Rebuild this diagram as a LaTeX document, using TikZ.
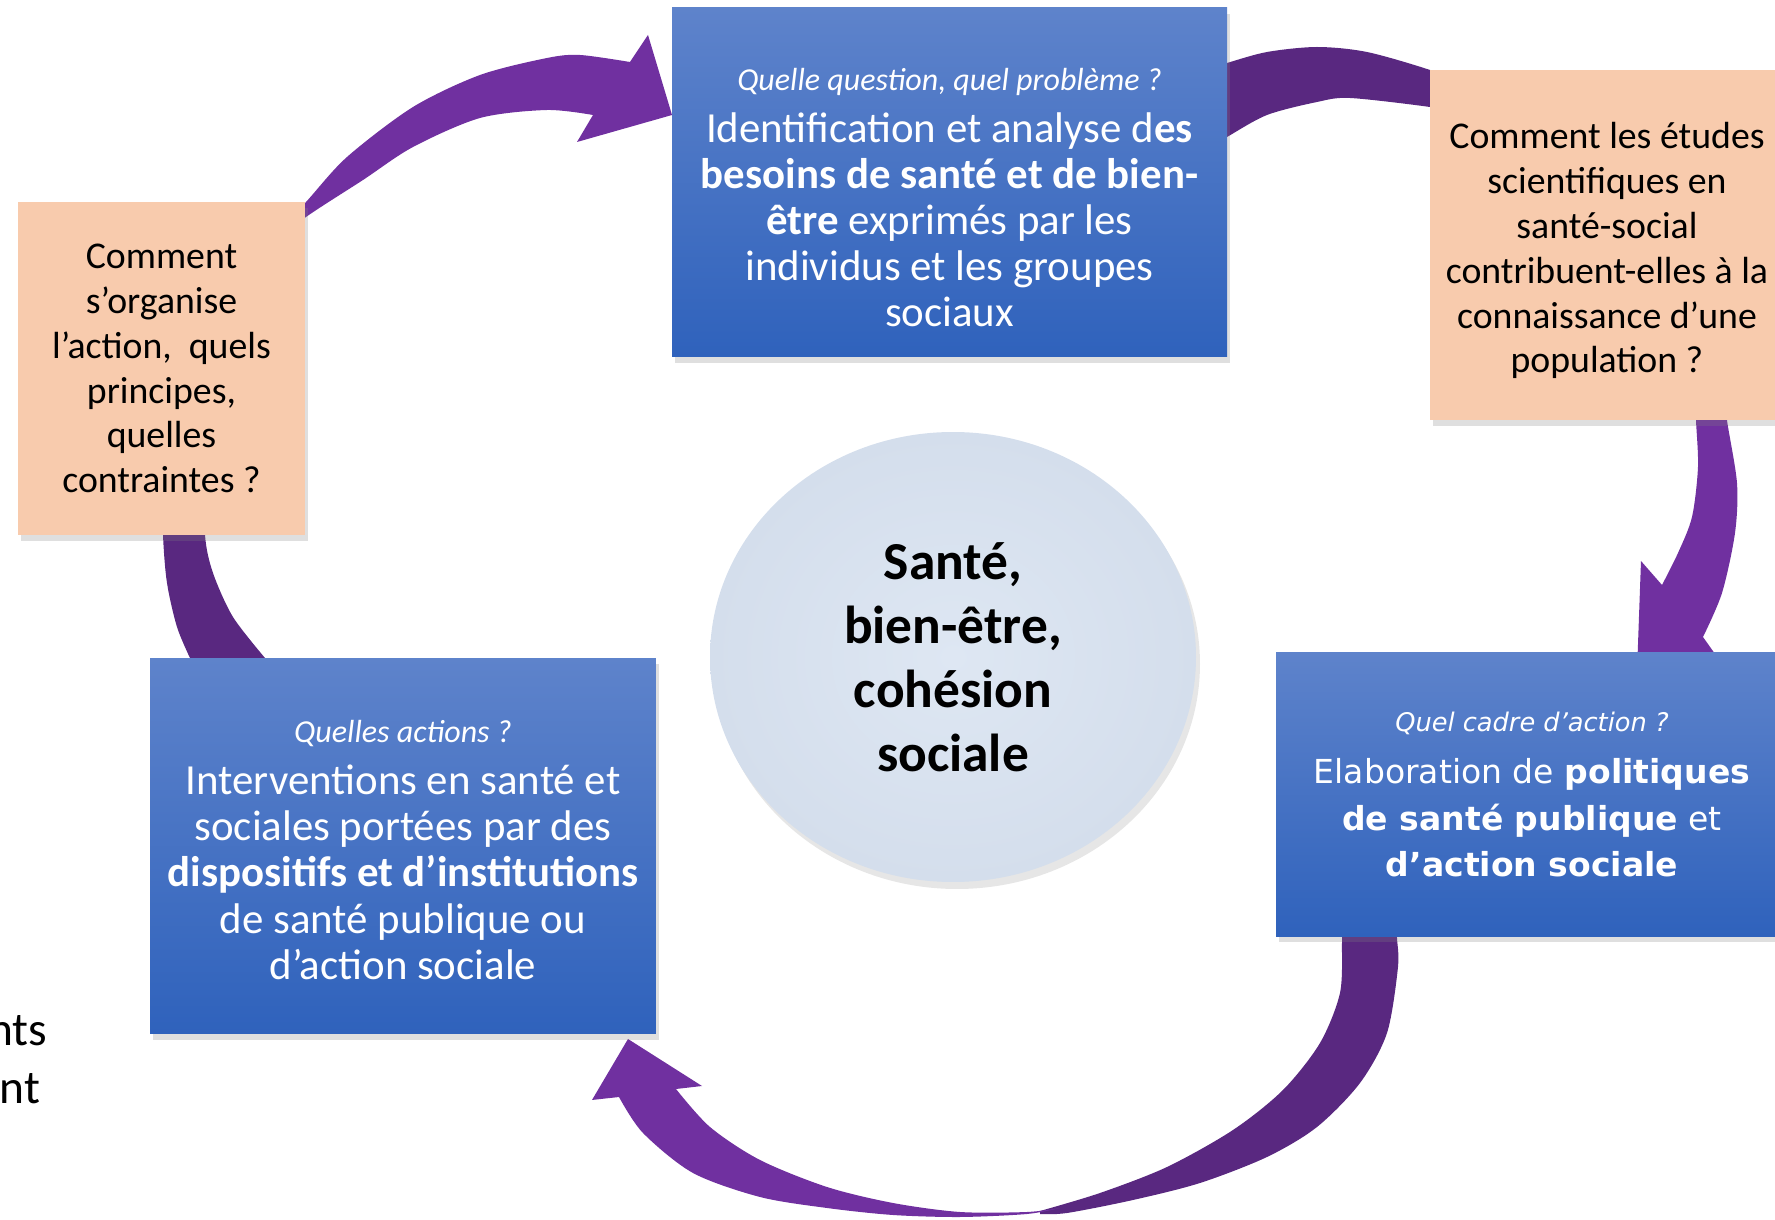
\documentclass[tikz,border=0pt]{standalone}
\usepackage{fontspec}
\setmainfont{Carlito}
\newfontfamily\verdfont{DejaVu Sans}
\usetikzlibrary{shapes.geometric,shadows}

\definecolor{boxtop}{RGB}{94,131,203}
\definecolor{boxbot}{RGB}{47,98,188}
\definecolor{peach}{RGB}{248,203,173}
\definecolor{arrowlight}{RGB}{112,48,160}
\definecolor{arrowdark}{RGB}{89,40,128}
\definecolor{discin}{RGB}{222,231,243}
\definecolor{discout}{RGB}{212,222,236}

\tikzset{
  boxshadow/.style={drop shadow={shadow xshift=0.3mm, shadow yshift=-0.6mm, opacity=0.25}},
  bluebox/.style={rectangle, top color=boxtop, bottom color=boxbot, text=white, align=center,
    inner sep=0pt, boxshadow, font=\fontsize{12.2}{13.1}\selectfont},
  peachbox/.style={rectangle, fill=peach, text=black, align=center,
    inner sep=0pt, boxshadow, font=\fontsize{10.75}{12.75}\selectfont},
  bandlight/.style={fill=arrowlight},
  banddark/.style={fill=arrowdark},
}

\begin{document}
\begin{tikzpicture}[x=0.1mm, y=-0.1mm]
            \useasboundingbox (0,0) rectangle (1775,1220);
            % back sides of the curved arrows
            \fill[banddark] (190,675) -- plot[smooth] coordinates {(190,658) (177,627) (167,583) (163,535) (162,470)}
                -- plot[smooth] coordinates {(205,470) (205,535) (213,573) (233,617) (265,658)} -- (275,675) -- cycle;
            \fill[banddark] plot[smooth] coordinates {(1205,70) (1227,63) (1267,52) (1317,47) (1367,52) (1430,70) (1455,82)}
                -- plot[smooth] coordinates {(1455,113) (1430,107) (1350,98) (1317,102) (1267,115) (1227,137) (1205,150)} -- cycle;
            \fill[banddark] plot[smooth] coordinates {(1342,925) (1342,943) (1340,993) (1320,1043) (1283,1090) (1233,1130)
                (1167,1167) (1100,1193) (1040,1211)}
                -- plot[smooth] coordinates {(1040,1214) (1067,1213) (1133,1200) (1200,1183) (1267,1157) (1317,1127)
                (1360,1083) (1387,1033) (1398,967) (1397,938) (1397,925)} -- cycle;
            % front sides with the heads
            \fill[bandlight] plot[smooth] coordinates {(262,250) (306,202) (347,157) (413,107) (480,75) (547,58) (580,55) (630,62)}
                -- (648,35) -- (672,115) -- (577,142) -- (593,115)
                -- plot[smooth] coordinates {(593,115) (547,110) (480,118) (413,147) (363,180) (306,217) (272,245)} -- cycle;
            \fill[bandlight] plot[smooth] coordinates {(1696,400) (1696,420) (1698,467) (1692,517) (1678,553) (1662,585)}
                -- (1641,561) -- (1636,700) -- (1725,668) -- (1703,637)
                -- plot[smooth] coordinates {(1703,637) (1722,593) (1735,533) (1737,483) (1727,420) (1727,400)} -- cycle;
            \fill[bandlight] plot[smooth] coordinates {(1060,1208) (1027,1214) (960,1217) (893,1215) (827,1208) (760,1197)
                (693,1173) (643,1133) (619,1097)}
                -- (592,1100) -- (628,1039) -- (702,1086) -- (676,1089)
                -- plot[smooth] coordinates {(676,1089) (710,1127) (760,1160) (827,1187) (893,1203) (960,1212) (1027,1212) (1060,1208)} -- cycle;
            % central disc
            \node[ellipse, inner color=discin, outer color=discout, minimum width=48.6mm, minimum height=45mm,
                drop shadow={shadow xshift=0.4mm, shadow yshift=-0.7mm, opacity=0.2}, align=center,
                font=\fontsize{15.2}{18.2}\selectfont\bfseries] (sante) at (953,657)
                {Santé,\\bien-être,\\cohésion\\sociale};
            % blue boxes
            \node[bluebox, minimum width=55.5mm, minimum height=34.9mm] (besoins) at (949.5,182.5)
                {\rule{0pt}{14.8pt}{\fontsize{9.1}{10}\selectfont\itshape Quelle question, quel problème ?}\\[1.7pt]
                 Identification et analyse d\textbf{es}\\
                 \textbf{besoins de santé et de bien-}\\
                 \textbf{être} exprimés par les\\
                 individus et les groupes\\
                 sociaux};
            \node[bluebox, minimum width=51.2mm, minimum height=28.4mm, font=\verdfont\fontsize{9.4}{13.1}\selectfont]
                (politiques) at (1532,794.5)
                {{\fontsize{7.3}{9}\selectfont\itshape Quel cadre d’action ?}\\[1.7pt]
                 Elaboration de \textbf{politiques}\\
                 \textbf{de santé publique} et\\
                 \textbf{d’action sociale}};
            \node[bluebox, minimum width=50.6mm, minimum height=37.6mm] (interventions) at (403,846)
                {\rule{0pt}{8.6pt}{\fontsize{9.1}{10}\selectfont\itshape Quelles actions ?}\\[1.7pt]
                 Interventions en santé et\\
                 sociales portées par des\\
                 \textbf{dispositifs et d’institutions}\\
                 de santé publique ou\\
                 d’action sociale};
            % question boxes
            \node[peachbox, minimum width=28.8mm, minimum height=33.3mm] (organise) at (161.5,368.5)
                {Comment\\s’organise\\l’action,~ quels\\principes,\\quelles\\contraintes ?};
            \node[peachbox, minimum width=35.4mm, minimum height=35mm] (etudes) at (1607,245)
                {\rule{0pt}{10.8pt}Comment les études\\scientifiques en\\santé-social\\contribuent-elles à la\\connaissance d’une\\population ?};
            % cut words at the left edge
            \node[anchor=base east, inner sep=0pt, font=\fontsize{13.5}{16}\selectfont] (motA) at (48,1046) {nts};
            \node[anchor=base east, inner sep=0pt, font=\fontsize{13.5}{16}\selectfont] (motB) at (41,1104) {nt};
\end{tikzpicture}
\end{document}
